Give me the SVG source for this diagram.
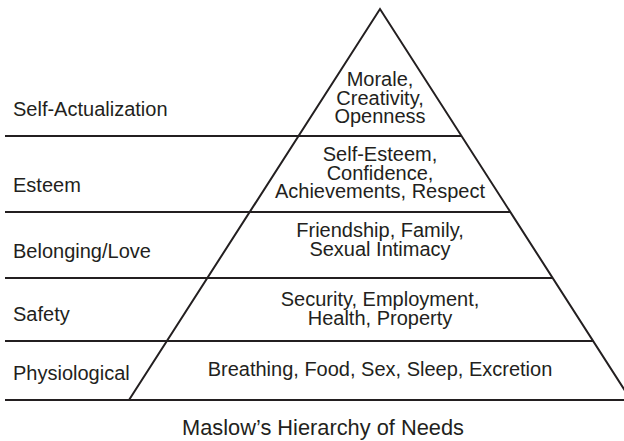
<svg xmlns="http://www.w3.org/2000/svg" width="624" height="441" viewBox="0 0 624 441">
  <style>
    .rule { stroke: #231f20; stroke-width: 2.2; fill: none; }
    .edge { stroke: #231f20; stroke-width: 2; fill: none; stroke-linejoin: miter; }
    .lbl { font-family: "Liberation Sans", Arial, sans-serif; font-size: 20px; fill: #231f20; }
    .mid { text-anchor: middle; }
    .title { font-size: 21.8px; }
  </style>
  <rect width="624" height="441" fill="#ffffff"/>

  <!-- pyramid outline and tier dividers -->
  <g id="lines">
    <path class="edge" d="M129,400 L380,9 L631,400"/>
    <line class="rule" x1="5" y1="136" x2="461.5" y2="136"/>
    <line class="rule" x1="5" y1="212" x2="510.3" y2="212"/>
    <line class="rule" x1="5" y1="278" x2="552.7" y2="278"/>
    <line class="rule" x1="5" y1="341" x2="593.1" y2="341"/>
    <line class="rule" x1="5" y1="400" x2="624" y2="400"/>
  </g>

  <g id="self-actualization">
    <text class="lbl" x="13" y="116">Self-Actualization</text>
    <text class="lbl mid" x="380" y="86">Morale,<tspan x="380" dy="18.5">Creativity,</tspan><tspan x="380" dy="18.5">Openness</tspan></text>
  </g>

  <g id="esteem">
    <text class="lbl" x="13" y="192">Esteem</text>
    <text class="lbl mid" x="380" y="161">Self-Esteem,<tspan x="380" dy="18.5">Confidence,</tspan><tspan x="380" dy="18.5">Achievements, Respect</tspan></text>
  </g>

  <g id="belonging">
    <text class="lbl" x="13" y="258">Belonging/Love</text>
    <text class="lbl mid" x="380" y="237">Friendship, Family,<tspan x="380" dy="18.5">Sexual Intimacy</tspan></text>
  </g>

  <g id="safety">
    <text class="lbl" x="13" y="321">Safety</text>
    <text class="lbl mid" x="380" y="306">Security, Employment,<tspan x="380" dy="18.5">Health, Property</tspan></text>
  </g>

  <g id="physiological">
    <text class="lbl" x="13" y="380">Physiological</text>
    <text class="lbl mid" x="380" y="376">Breathing, Food, Sex, Sleep, Excretion</text>
  </g>

  <g id="caption">
    <text class="lbl title mid" x="323" y="435">Maslow’s Hierarchy of Needs</text>
  </g>
</svg>
